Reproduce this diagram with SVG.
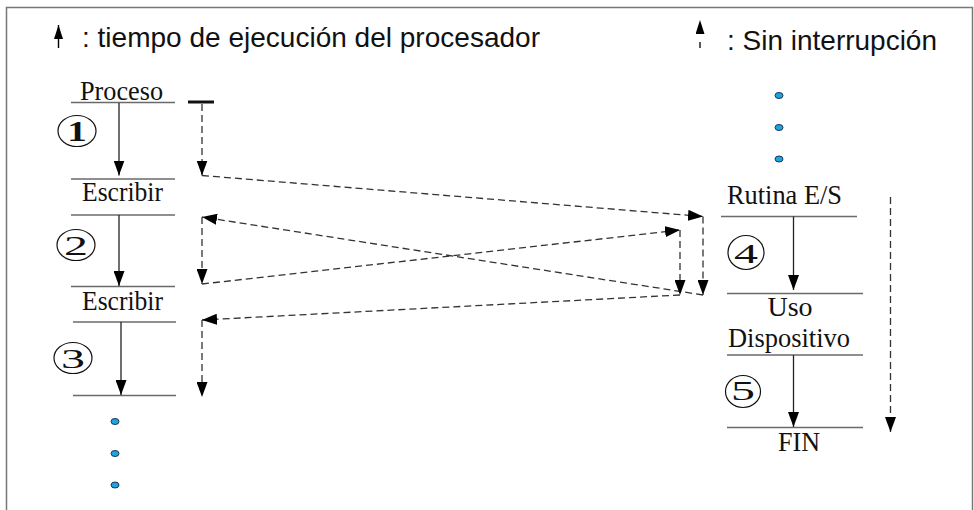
<svg xmlns="http://www.w3.org/2000/svg" width="974" height="510" viewBox="0 0 974 510">
  <style>
    .legend { font-family: "Liberation Sans", Arial, sans-serif; font-size: 28px; fill: #111; }
    .label { font-family: "Liberation Serif", "Times New Roman", serif; font-size: 28px; fill: #111; }
    .num { font-family: "Liberation Serif", "Times New Roman", serif; fill: #111; text-anchor: middle; }
    .rule { stroke: #6a6a6a; stroke-width: 1.5; fill: none; }
    .flow { stroke: #222; stroke-width: 1.3; fill: none; marker-end: url(#head); }
    .wait-end { stroke: #333; stroke-width: 1.3; fill: none; stroke-dasharray: 7 4; marker-end: url(#head); }
    .badge { fill: #fff; stroke: #111; stroke-width: 1.2; }
    .dot { fill: #1aa6e6; stroke: #1b3550; stroke-width: 1; }
  </style>
  <defs>
    <marker id="head" viewBox="0 0 15 11" markerWidth="15" markerHeight="11" refX="15" refY="5.5" orient="auto" markerUnits="userSpaceOnUse">
      <path d="M0,0 L15,5.5 L0,11 z" fill="#000"/>
    </marker>
    <marker id="head-legend" viewBox="0 0 14 9" markerWidth="14" markerHeight="9" refX="14" refY="4.5" orient="auto" markerUnits="userSpaceOnUse">
      <path d="M0,0 L14,4.5 L0,9 z" fill="#000"/>
    </marker>
  </defs>

  <rect width="974" height="510" fill="#fff"/>
  <!-- frame -->
  <path d="M6.5,510 V7.5 H972.5 V510" fill="none" stroke="#777" stroke-width="1.5"/>

  <!-- legend -->
  <g id="legend">
    <line x1="58.5" y1="48" x2="58.5" y2="25" stroke="#000" stroke-width="1.4" marker-end="url(#head-legend)"/>
    <text class="legend" x="82" y="47" textLength="458" lengthAdjust="spacingAndGlyphs">: tiempo de ejecución del procesador</text>
    <line x1="700" y1="48" x2="700" y2="20" stroke="#000" stroke-width="1.3" stroke-dasharray="6 8" marker-end="url(#head-legend)"/>
    <text class="legend" x="727" y="50" textLength="210" lengthAdjust="spacingAndGlyphs">: Sin interrupción</text>
  </g>

  <!-- process column -->
  <g id="proceso">
    <text class="label" x="80" y="100" textLength="83" lengthAdjust="spacingAndGlyphs">Proceso</text>
    <line class="rule" x1="71" y1="102.5" x2="175" y2="102.5"/>
    <line x1="188" y1="102" x2="214" y2="102" stroke="#111" stroke-width="3"/>
  </g>
  <g id="paso1">
    <ellipse class="badge" cx="77" cy="131" rx="19" ry="15.5"/>
    <text class="num" x="77" y="141" font-size="30" font-weight="bold" transform="translate(77 0) scale(1.3 1) translate(-77 0)">1</text>
  </g>
  <g id="escribir1">
    <line class="rule" x1="71" y1="179" x2="175" y2="179"/>
    <text class="label" x="82" y="201" textLength="81" lengthAdjust="spacingAndGlyphs">Escribir</text>
    <line class="rule" x1="71" y1="215" x2="175" y2="215"/>
  </g>
  <g id="paso2">
    <ellipse class="badge" cx="76" cy="245" rx="19" ry="15.5"/>
    <text class="num" x="76" y="255" font-size="30" transform="translate(76 0) scale(1.6 0.9) translate(-76 28)">2</text>
  </g>
  <g id="escribir2">
    <line class="rule" x1="71" y1="286.5" x2="175" y2="286.5"/>
    <text class="label" x="82" y="310" textLength="81" lengthAdjust="spacingAndGlyphs">Escribir</text>
    <line class="rule" x1="73" y1="322" x2="176" y2="322"/>
  </g>
  <g id="paso3">
    <ellipse class="badge" cx="73" cy="358" rx="19" ry="15.5"/>
    <text class="num" x="73" y="368" font-size="30" transform="translate(73 0) scale(1.6 0.9) translate(-73 41)">3</text>
  </g>
  <g id="fin-proceso">
    <line class="rule" x1="73" y1="395.5" x2="176" y2="395.5"/>
  </g>
  <g id="continua-proceso">
    <ellipse class="dot" cx="115" cy="421.5" rx="4" ry="3"/>
    <ellipse class="dot" cx="115" cy="453.5" rx="4" ry="3"/>
    <ellipse class="dot" cx="115" cy="485" rx="4" ry="3"/>
  </g>

  <!-- I/O routine column -->
  <g id="previo-rutina">
    <ellipse class="dot" cx="779" cy="95.5" rx="4" ry="3"/>
    <ellipse class="dot" cx="779" cy="127.5" rx="4" ry="3"/>
    <ellipse class="dot" cx="779" cy="159" rx="4" ry="3"/>
  </g>
  <g id="rutina">
    <text class="label" x="727" y="204" textLength="115" lengthAdjust="spacingAndGlyphs">Rutina E/S</text>
    <line class="rule" x1="721" y1="216.5" x2="857" y2="216.5"/>
  </g>
  <g id="paso4">
    <ellipse class="badge" cx="746" cy="252.5" rx="18" ry="17"/>
    <text class="num" x="746" y="263" font-size="30" transform="translate(746 0) scale(1.6 0.9) translate(-746 29)">4</text>
  </g>
  <g id="dispositivo">
    <line class="rule" x1="727" y1="293.5" x2="863" y2="293.5"/>
    <text class="label" x="790" y="316" text-anchor="middle">Uso</text>
    <text class="label" x="728" y="346.5" textLength="122" lengthAdjust="spacingAndGlyphs">Dispositivo</text>
    <line class="rule" x1="727" y1="355" x2="863" y2="355"/>
  </g>
  <g id="paso5">
    <ellipse class="badge" cx="743" cy="391.5" rx="17.5" ry="16"/>
    <text class="num" x="743" y="401" font-size="30" transform="translate(743 0) scale(1.6 0.9) translate(-743 44)">5</text>
  </g>
  <g id="fin">
    <line class="rule" x1="727" y1="427.5" x2="863" y2="427.5"/>
    <text class="label" x="778" y="450.5" textLength="42" lengthAdjust="spacingAndGlyphs">FIN</text>
  </g>

  <!-- connectors -->
  <g id="connectors">
    <!-- processor time, solid -->
    <line class="flow" x1="119" y1="103" x2="119" y2="175.5"/>
    <line class="flow" x1="119" y1="215" x2="119" y2="286"/>
    <line class="flow" x1="121" y1="322" x2="121" y2="395"/>
    <line class="flow" x1="793.5" y1="216.5" x2="793.5" y2="290"/>
    <line class="flow" x1="793.5" y1="355" x2="793.5" y2="427"/>

    <!-- uninterrupted flow, dashed -->
    <line class="wait-end" x1="202" y1="104" x2="202" y2="175.5"/>
    <line class="wait-end" x1="202" y1="175.5" x2="703" y2="216.5"/>
    <line class="wait-end" x1="703" y1="216.5" x2="703" y2="295"/>
    <line class="wait-end" x1="703" y1="295" x2="202" y2="217"/>
    <line class="wait-end" x1="202" y1="217" x2="202" y2="284"/>
    <line class="wait-end" x1="202" y1="284" x2="680" y2="230"/>
    <line class="wait-end" x1="680" y1="230" x2="680" y2="295"/>
    <line class="wait-end" x1="680" y1="295" x2="202" y2="320"/>
    <line class="wait-end" x1="202" y1="320" x2="202" y2="397"/>
    <line class="wait-end" x1="890.5" y1="197" x2="890.5" y2="432" stroke="#777"/>
  </g>
</svg>
